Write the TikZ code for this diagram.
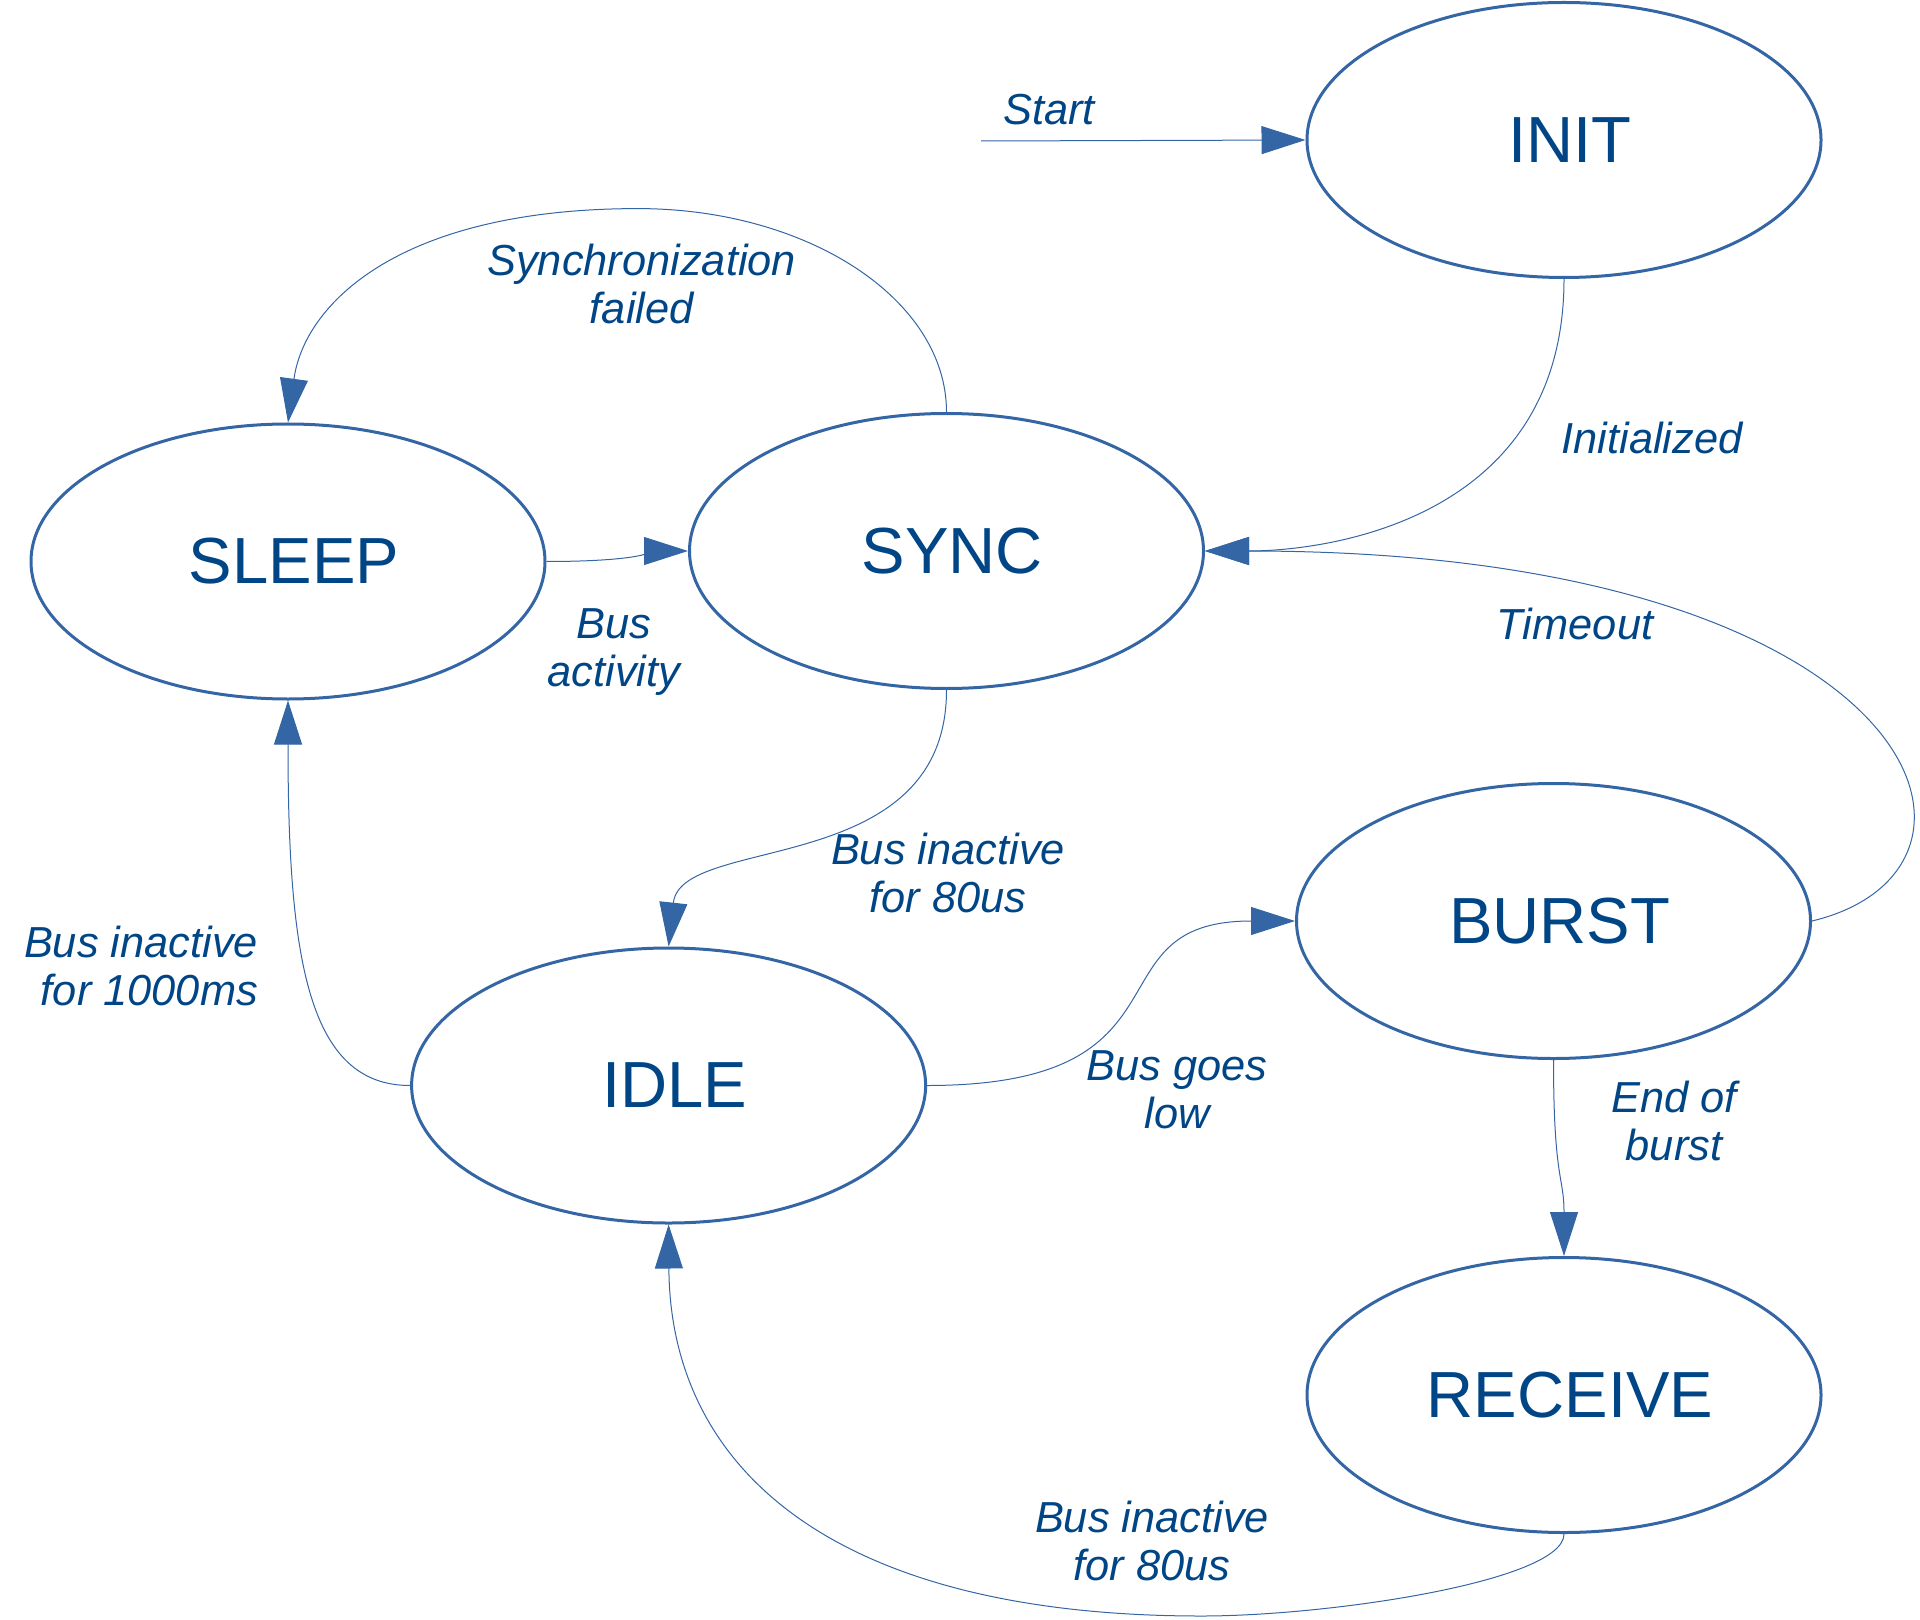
\documentclass[tikz,border=0pt]{standalone}
\usepackage{fontspec}
\setmainfont{Liberation Sans}
\usetikzlibrary{arrows.meta,shapes.geometric}
\definecolor{linec}{HTML}{3465A4}
\definecolor{textc}{HTML}{004586}
\begin{document}
\begin{tikzpicture}[x=0.5pt,y=-0.5pt,
  state/.style={ellipse,draw=linec,line width=1.5pt,minimum width=257pt,minimum height=137.5pt,inner sep=0pt,text=textc,font=\fontsize{32.6}{37}\selectfont,execute at begin node={\hspace*{6pt}}},
  lbl/.style={text=textc,font=\fontsize{21.7}{24}\selectfont\itshape,align=center,inner sep=0pt,anchor=base},
  conn/.style={draw=linec,line width=0.5pt,-{Triangle[length=22pt,width=14pt]}}]
\useasboundingbox (0,0) rectangle (1920,1620);

\node[state] (init) at (1564,140) {INIT};
\node[state] (sleep) at (288,561.5) {SLEEP};
\node[state] (sync) at (946.5,551) {SYNC};
\node[state] (burst) at (1553.5,921) {BURST};
\node[state] (idle) at (668.6,1085.5) {IDLE};
\node[state] (receive) at (1564,1395) {RECEIVE};

\coordinate (startpt) at (981,141);
\coordinate (sftop) at (638,208.6);
\coordinate (rxbot) at (1201.5,1616);

\draw[conn] (startpt) -- (init.west);
\draw[conn] (init.south) .. controls +(0,241.5) and +(121,0) .. (sync.east);
\draw[conn] (burst.east) .. controls +(218,-52) and +(720,0) .. (sync.east);
\draw[conn] (sync.north) .. controls +(0,-112.5) and +(170,0) .. (sftop)
  .. controls +(-241,0) and +(16,-117) .. (sleep.north);
\draw[conn] (sleep.east) .. controls +(95,0) and +(-29.5,0) .. (sync.west);
\draw[conn] (sync.south) .. controls +(0,190) and +(12.3,-113) .. (idle.north);
\draw[conn] (idle.west) .. controls +(-101.6,0) and +(0,260) .. (sleep.south);
\draw[conn] (idle.east) .. controls +(276,0) and +(-209.5,0) .. (burst.west);
\draw[conn] (burst.south) .. controls +(0,120) and +(0,-80) .. (receive.north);
\draw[conn] (receive.south) .. controls +(0,47) and +(128.5,0) .. (rxbot)
  .. controls +(-371.7,0) and +(1.5,242) .. (idle.south);

\node[lbl] (lstart) at (1049,124.3) {Start};
\node[lbl] (lsync) at (641.7,324) {Synchronization\\failed};
\node[lbl] (linit) at (1652,454) {Initialized};
\node[lbl] (ltime) at (1575,639) {Timeout};
\node[lbl] (lact) at (614,686.7) {Bus\\activity};
\node[lbl] (l80a) at (948,912.9) {Bus inactive\\for 80us};
\node[lbl,align=right,anchor=base east] (l1000) at (258.4,1005.7) {Bus inactive\\for 1000ms};
\node[lbl] (llow) at (1177,1128) {Bus goes\\low};
\node[lbl] (lend) at (1674,1160) {End of\\burst};
\node[lbl] (l80b) at (1152,1580.7) {Bus inactive\\for 80us};
\end{tikzpicture}
\end{document}
